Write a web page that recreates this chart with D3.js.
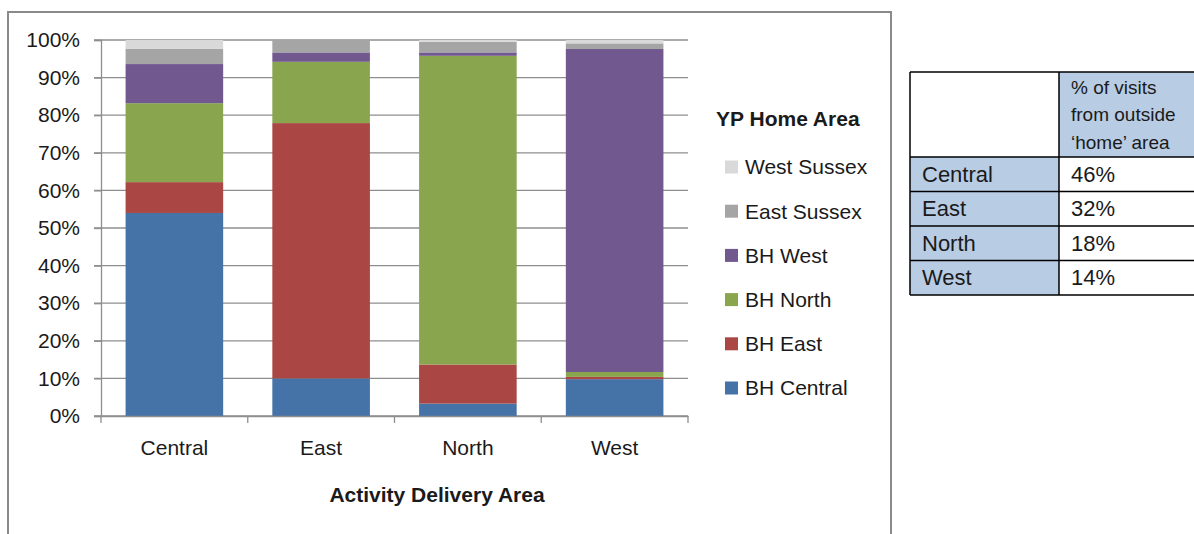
<!DOCTYPE html>
<html>
<head>
<meta charset="utf-8">
<script src="https://cdn.jsdelivr.net/npm/d3@7"></script>
<style>
  body { margin: 0; background: #fff; }
  svg text { font-family: "Liberation Sans", Arial, sans-serif; fill: #1a1a1a; }
</style>
</head>
<body>
<svg id="chart" width="1194" height="534"></svg>
<script>
// delivery areas (x axis)
const areas = ["Central", "East", "North", "West"];
// home areas, bottom to top of each stack
const homeAreas = ["BH Central", "BH East", "BH North", "BH West", "East Sussex", "West Sussex"];
const colors = ["#4572A7", "#AA4643", "#89A54E", "#71588F", "#A5A5A5", "#D9D9D9"];

// share of visits (%) per delivery area, one array per home area
const bhCentral   = [54.0, 10.0,  3.3,  9.8];
const bhEast      = [ 8.2, 67.9, 10.4,  0.6];
const bhNorth     = [21.0, 16.3, 82.1,  1.3];
const bhWest      = [10.4,  2.5,  0.9, 85.9];
const eastSussex  = [ 4.1,  3.3,  2.8,  1.5];
const westSussex  = [ 2.3,  0.0,  0.5,  0.9];

const yTicks = [0, 10, 20, 30, 40, 50, 60, 70, 80, 90, 100];

// side table
const tableHeader = ["% of visits", "from outside", "\u2018home\u2019 area"];
const tableRows = ["Central", "East", "North", "West"];
const tableValues = ["46%", "32%", "18%", "14%"];

const series = [bhCentral, bhEast, bhNorth, bhWest, eastSussex, westSussex];
const rows = areas.map((a, i) => {
    const r = {area: a};
    homeAreas.forEach((h, j) => r[h] = series[j][i]);
    return r;
});

const svg = d3.select("#chart");
const fs = "21px";

// chart frame
svg.append("path")
    .attr("d", "M8,540 V12 H891 V540")
    .attr("fill", "none")
    .attr("stroke", "#8a8a8a")
    .attr("stroke-width", 2);

const plot = {left: 101, right: 688, top: 40, bottom: 416};

const x = d3.scaleBand()
    .domain(areas)
    .range([plot.left, plot.right])
    .paddingInner(0.335)
    .paddingOuter(0.1675);

const y = d3.scaleLinear()
    .domain([0, 100])
    .range([plot.bottom, plot.top]);

const color = d3.scaleOrdinal().domain(homeAreas).range(colors);

// gridlines
svg.append("g")
    .selectAll("line")
    .data(yTicks)
    .enter()
    .append("line")
    .attr("x1", plot.left - 7)
    .attr("x2", plot.right)
    .attr("y1", d => y(d))
    .attr("y2", d => y(d))
    .attr("stroke", "#8e8e8e")
    .attr("stroke-width", 1.3);

// stacked bars
const stacked = d3.stack().keys(homeAreas)(rows);

svg.append("g")
    .selectAll("g")
    .data(stacked)
    .enter()
    .append("g")
    .attr("fill", d => color(d.key))
    .selectAll("rect")
    .data(d => d)
    .enter()
    .append("rect")
    .attr("x", d => x(d.data.area))
    .attr("width", x.bandwidth())
    .attr("y", d => y(d[1]))
    .attr("height", d => y(d[0]) - y(d[1]));

// y axis
const yAxis = svg.append("g")
    .attr("transform", "translate(" + plot.left + ",0)")
    .call(d3.axisLeft(y)
        .tickValues(yTicks)
        .tickFormat(d => d + "%")
        .tickSize(7)
        .tickPadding(14));
yAxis.selectAll("line, path").attr("stroke", "#8e8e8e").attr("stroke-width", 1.3);
yAxis.selectAll("text").attr("font-size", fs).attr("fill", "#1a1a1a")
    .style("font-family", "'Liberation Sans', Arial, sans-serif");

// x axis
const xAxis = svg.append("g")
    .attr("transform", "translate(0," + plot.bottom + ")")
    .call(d3.axisBottom(x).tickSize(0).tickPadding(24));
xAxis.select("path").attr("stroke", "#8e8e8e").attr("stroke-width", 1.3);
xAxis.selectAll("text").attr("font-size", fs).attr("fill", "#1a1a1a")
    .style("font-family", "'Liberation Sans', Arial, sans-serif");

// category boundary ticks
xAxis.append("g")
    .selectAll("line")
    .data(d3.range(areas.length + 1))
    .enter()
    .append("line")
    .attr("x1", i => plot.left + i * x.step())
    .attr("x2", i => plot.left + i * x.step())
    .attr("y1", 0)
    .attr("y2", 7)
    .attr("stroke", "#8e8e8e")
    .attr("stroke-width", 1.3);

svg.append("text")
    .attr("x", 437)
    .attr("y", 502)
    .attr("text-anchor", "middle")
    .attr("font-size", fs)
    .attr("font-weight", "bold")
    .text("Activity Delivery Area");

// legend
const legend = svg.append("g").attr("transform", "translate(716,0)");
legend.append("text")
    .attr("x", 0)
    .attr("y", 126)
    .attr("font-size", fs)
    .attr("font-weight", "bold")
    .text("YP Home Area");

const legendItems = legend.selectAll(".item")
    .data(homeAreas.slice().reverse())
    .enter()
    .append("g")
    .attr("class", "item")
    .attr("transform", (d, i) => "translate(0," + (167 + i * 44.2) + ")");

legendItems.append("rect")
    .attr("x", 9)
    .attr("y", -6.5)
    .attr("width", 13)
    .attr("height", 13)
    .attr("fill", d => color(d));

legendItems.append("text")
    .attr("x", 29)
    .attr("dy", "0.35em")
    .attr("font-size", fs)
    .text(d => d);

// side table
const tbl = svg.append("g");
const tX0 = 910, tX1 = 1059, tX2 = 1198;
const headTop = 72, headBottom = 157, rowH = 34.5;
const blue = "#B8CCE4";

tbl.append("rect").attr("x", tX0).attr("y", headTop).attr("width", tX1 - tX0).attr("height", headBottom - headTop).attr("fill", "#fff");
tbl.append("rect").attr("x", tX1).attr("y", headTop).attr("width", tX2 - tX1).attr("height", headBottom - headTop).attr("fill", blue);

tbl.selectAll(".hdr")
    .data(tableHeader)
    .enter()
    .append("text")
    .attr("x", tX1 + 12)
    .attr("y", (d, i) => 87 + i * 27.5)
    .attr("dy", "0.35em")
    .attr("font-size", "19px")
    .text(d => d);

const trow = tbl.selectAll(".trow")
    .data(tableRows)
    .enter()
    .append("g")
    .attr("transform", (d, i) => "translate(0," + (headBottom + i * rowH) + ")");

trow.append("rect").attr("x", tX0).attr("width", tX1 - tX0).attr("height", rowH).attr("fill", blue);
trow.append("rect").attr("x", tX1).attr("width", tX2 - tX1).attr("height", rowH).attr("fill", "#fff");
trow.append("text")
    .attr("x", tX0 + 12)
    .attr("y", rowH / 2)
    .attr("dy", "0.35em")
    .attr("font-size", "22px")
    .text(d => d);
trow.append("text")
    .attr("x", tX1 + 12)
    .attr("y", rowH / 2)
    .attr("dy", "0.35em")
    .attr("font-size", "22px")
    .text((d, i) => tableValues[i]);

// table grid lines
const tBottom = headBottom + tableRows.length * rowH;
const hLines = [headTop, headBottom].concat(tableRows.map((d, i) => headBottom + (i + 1) * rowH));
tbl.selectAll(".hl")
    .data(hLines)
    .enter()
    .append("line")
    .attr("x1", tX0).attr("x2", tX2)
    .attr("y1", d => d).attr("y2", d => d)
    .attr("stroke", "#000").attr("stroke-width", 1.5);
tbl.selectAll(".vl")
    .data([tX0, tX1])
    .enter()
    .append("line")
    .attr("x1", d => d).attr("x2", d => d)
    .attr("y1", headTop).attr("y2", tBottom)
    .attr("stroke", "#000").attr("stroke-width", 1.5);
</script>
</body>
</html>
